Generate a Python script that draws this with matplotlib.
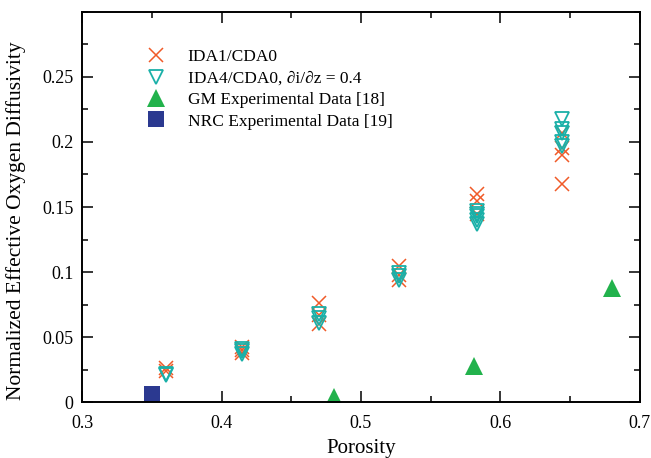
import numpy as np
import matplotlib
matplotlib.use('Agg')
import matplotlib.pyplot as plt
from matplotlib.ticker import MultipleLocator

plt.rcParams['font.family'] = ['Liberation Serif', 'DejaVu Serif']
plt.rcParams['mathtext.fontset'] = 'stix'

# IDA1/CDA0 simulation results
ida1_x = [0.36, 0.36, 0.415, 0.415, 0.415,
          0.47, 0.47, 0.47, 0.527, 0.527, 0.527,
          0.583, 0.583, 0.583, 0.644, 0.644, 0.644, 0.644]
ida1_y = [0.026, 0.024, 0.042, 0.040, 0.038,
          0.076, 0.067, 0.060, 0.105, 0.098, 0.094,
          0.160, 0.155, 0.145, 0.207, 0.195, 0.190, 0.168]

# IDA4/CDA0 simulation results
ida4_x = [0.36, 0.36, 0.415, 0.415, 0.415,
          0.47, 0.47, 0.47, 0.527, 0.527, 0.527,
          0.583, 0.583, 0.583, 0.583, 0.583,
          0.644, 0.644, 0.644, 0.644, 0.644]
ida4_y = [0.022, 0.021, 0.041, 0.039, 0.037,
          0.068, 0.065, 0.061, 0.099, 0.097, 0.094,
          0.147, 0.145, 0.143, 0.140, 0.137,
          0.218, 0.210, 0.207, 0.200, 0.197]

# experimental data
gm_x = [0.481, 0.581, 0.680]
gm_y = [0.004, 0.028, 0.088]
nrc_x = [0.35]
nrc_y = [0.006]

fig = plt.figure(figsize=(6.51, 4.58), dpi=100)
ax = fig.add_axes([0.126, 0.122, 0.857, 0.852])

ax.plot(ida1_x, ida1_y, 'x', color='#F05A28', markersize=10, mew=1.1,
        linestyle='none', label='IDA1/CDA0')
ax.plot(ida4_x, ida4_y, 'v', color='#1AB0A8', markersize=10.5, mew=1.3,
        mfc='none', linestyle='none',
        label='IDA4/CDA0, \u2202i/\u2202z = 0.4')
ax.plot(gm_x, gm_y, '^', color='#22B24C', markersize=13, mew=0,
        linestyle='none', label='GM Experimental Data [18]')
ax.plot(nrc_x, nrc_y, 's', color='#2B3990', markersize=11, mew=0,
        linestyle='none', label='NRC Experimental Data [19]')

ax.set_xlim(0.3, 0.7)
ax.set_ylim(0, 0.3)
ax.xaxis.set_major_locator(MultipleLocator(0.1))
ax.xaxis.set_minor_locator(MultipleLocator(0.05))
ax.yaxis.set_major_locator(MultipleLocator(0.05))
ax.yaxis.set_minor_locator(MultipleLocator(0.025))
ax.set_xticks([0.3, 0.4, 0.5, 0.6, 0.7])
ax.set_xticklabels(['0.3', '0.4', '0.5', '0.6', '0.7'])
ax.set_yticks([0, 0.05, 0.1, 0.15, 0.2, 0.25])
ax.set_yticklabels(['0', '0.05', '0.1', '0.15', '0.2', '0.25'])

ax.tick_params(which='both', direction='in', top=True, right=True,
               labelsize=13, width=1.1)
ax.tick_params(axis='x', which='major', pad=9)
ax.tick_params(axis='y', which='major', pad=6)
ax.tick_params(which='major', length=8)
ax.tick_params(which='minor', length=4.5)
for s in ax.spines.values():
    s.set_linewidth(1.4)

ax.set_xlabel('Porosity', fontsize=15)
ax.set_ylabel('Normalized Effective Oxygen Diffusivity', fontsize=15.5)
ax.xaxis.set_label_coords(0.5, -0.095)
ax.yaxis.set_label_coords(-0.1, 0.465)

ax.legend(loc='upper left', bbox_to_anchor=(0.096, 0.922), frameon=False,
          fontsize=12.5, handlelength=1.5, handletextpad=1.1,
          labelspacing=0.3, borderaxespad=0)

fig.savefig('out.png', dpi=100)
